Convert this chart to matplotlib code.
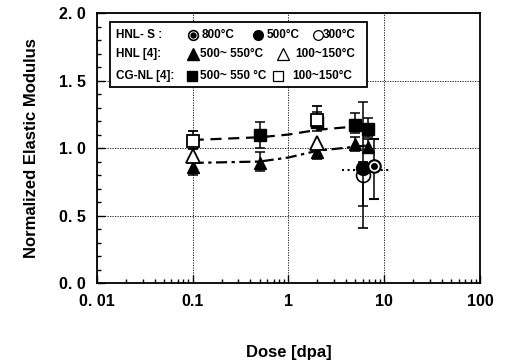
import numpy as np
import matplotlib.pyplot as plt
from matplotlib.ticker import FixedLocator, NullFormatter, MultipleLocator

# ---- data ----
# CG-NL [4], 500-550C (filled squares)
cg_hot_x = [0.5, 2.0, 5.0, 6.8]
cg_hot_y = [1.10, 1.19, 1.17, 1.14]
cg_hot_lo = [0.10, 0.06, 0.06, 0.06]
cg_hot_hi = [0.09, 0.08, 0.09, 0.08]
# CG-NL [4], 100-150C (open squares)
cg_cold_x = [0.1, 2.0]
cg_cold_y = [1.05, 1.21]
cg_cold_lo = [0.06, 0.06]
cg_cold_hi = [0.08, 0.10]
# HNL [4], 500-550C (filled triangles)
hnl_hot_x = [0.1, 0.5, 2.0, 5.0, 6.8]
hnl_hot_y = [0.86, 0.89, 0.97, 1.03, 1.01]
hnl_hot_lo = [0.06, 0.06, 0.05, 0.05, 0.05]
hnl_hot_hi = [0.05, 0.08, 0.05, 0.05, 0.06]
# HNL [4], 100-150C (open triangles)
hnl_cold_x = [0.1, 2.0]
hnl_cold_y = [0.94, 1.04]
# HNL-S
s800_x, s800_y = [7.8], [0.87]
s800_err = [[0.25], [0.20]]
s800_xerr = [[4.2], [3.7]]
s500_x, s500_y = [6.0], [0.85]
s500_err = [[0.28], [0.49]]
s300_x, s300_y = [6.0], [0.80]
s300_err = [[0.39], [0.10]]
# fitted trend lines
fit_cg_x = [0.1, 0.5, 1.0, 2.0, 5.0]
fit_cg_y = [1.06, 1.08, 1.10, 1.135, 1.16]
fit_hnl_x = [0.1, 0.5, 1.0, 2.0, 5.0, 6.8]
fit_hnl_y = [0.89, 0.90, 0.93, 0.98, 1.01, 1.02]

plt.rcParams['font.family'] = ['Liberation Sans', 'DejaVu Sans']
plt.rcParams['font.weight'] = 'bold'

fig = plt.figure(figsize=(5.07, 3.64), dpi=100)
ax = fig.add_axes([0.191, 0.2225, 0.756, 0.7415])

ek = dict(ecolor='black', elinewidth=1.1, capsize=3.5, capthick=1.1, ls='none')
ax.plot(fit_cg_x, fit_cg_y, color='black', ls=(0, (5, 3)), lw=1.6, zorder=2)
ax.plot(fit_hnl_x, fit_hnl_y, color='black', ls=(0, (5, 2, 1.5, 2)), lw=1.6, zorder=2)

ax.errorbar(hnl_hot_x, hnl_hot_y, yerr=[hnl_hot_lo, hnl_hot_hi], marker='^', ms=9,
            mfc='black', mec='black', **ek, zorder=3)
ax.errorbar(hnl_cold_x, hnl_cold_y, marker='^', ms=10, mfc='white', mec='black',
            mew=1.3, ls='none', zorder=4)
ax.errorbar(cg_hot_x, cg_hot_y, yerr=[cg_hot_lo, cg_hot_hi], marker='s', ms=8,
            mfc='black', mec='black', **ek, zorder=3)
ax.errorbar(cg_cold_x, cg_cold_y, yerr=[cg_cold_lo, cg_cold_hi], marker='s', ms=8,
            mfc='white', mec='black', mew=1.3, **ek, zorder=4)

ax.errorbar(s300_x, s300_y, yerr=s300_err, marker='o', ms=10, mfc='white', mec='black',
            mew=1.2, **ek, zorder=4)
ax.errorbar(s500_x, s500_y, yerr=s500_err, marker='o', ms=10, mfc='black', mec='black',
            **ek, zorder=5)
ax.errorbar(s800_x, s800_y, yerr=s800_err, marker='o', ms=9, mfc='white', mec='black',
            mew=1.5, **ek, zorder=5)
ax.plot(s800_x, s800_y, 'ko', ms=4, zorder=6)
ax.errorbar(s800_x, [0.838], xerr=s800_xerr, fmt='none', ecolor='black', elinewidth=1.5,
            zorder=2)[2][0].set_linestyle(':')

ax.set_xscale('log')
ax.set_xlim(0.01, 100)
ax.set_ylim(0, 2.0)
ax.set_xticks([0.01, 0.1, 1, 10, 100])
ax.set_xticklabels(['0. 01', '0.1', '1', '10', '100'], fontsize=11.5, fontweight='bold')
ax.set_yticks([0, 0.5, 1.0, 1.5, 2.0])
ax.set_yticklabels(['0. 0', '0. 5', '1. 0', '1. 5', '2. 0'], fontsize=11.5, fontweight='bold')
ax.yaxis.set_minor_locator(MultipleLocator(0.1))
ax.xaxis.set_minor_locator(FixedLocator([m * 10.0 ** e for e in range(-2, 2) for m in range(2, 10)]))
ax.xaxis.set_minor_formatter(NullFormatter())
ax.tick_params(which='both', direction='in', top=False, right=False, width=1)
ax.tick_params(which='major', length=6, pad=8)
ax.tick_params(which='minor', length=3)
ax.grid(True, which='major', color='black', ls=(0, (1.5, 1.5)), lw=0.6)
for s in ax.spines.values():
    s.set_linewidth(1.3)

ax.set_xlabel('Dose [dpa]', fontsize=12, fontweight='bold', labelpad=26)
ax.set_ylabel('Normalized Elastic Modulus', fontsize=12, fontweight='bold', labelpad=14)

# legend box drawn by hand
T = ax.transAxes
ax.add_patch(plt.Rectangle((0.034, 0.726), 0.671, 0.241, transform=T, fc='white',
                           ec='black', lw=1.3, zorder=7))
fs = 8.5
rows = [0.919, 0.85, 0.767]
labels = ['HNL- S :', 'HNL [4]:', 'CG-NL [4]:']
for yy, lab in zip(rows, labels):
    ax.text(0.051, yy, lab, transform=T, fontsize=fs, fontweight='bold', va='center', zorder=8)
mk = dict(transform=T, zorder=8, clip_on=False, ls='none')
ax.plot([0.251], [rows[0]], marker='o', ms=7, mfc='white', mec='black', mew=1.2, **mk)
ax.plot([0.251], [rows[0]], marker='o', ms=3.5, color='black', **mk)
ax.plot([0.42], [rows[0]], marker='o', ms=7, color='black', **mk)
ax.plot([0.576], [rows[0]], marker='o', ms=7, mfc='white', mec='black', mew=0.9, **mk)
ax.plot([0.251], [rows[1]], marker='^', ms=8, color='black', **mk)
ax.plot([0.486], [rows[1]], marker='^', ms=8, mfc='white', mec='black', mew=0.9, **mk)
ax.plot([0.247], [rows[2]], marker='s', ms=7, color='black', **mk)
ax.plot([0.473], [rows[2]], marker='s', ms=7, mfc='white', mec='black', mew=0.9, **mk)
entries = [(0.273, rows[0], '800°C'), (0.443, rows[0], '500°C'), (0.59, rows[0], '300°C'),
           (0.269, rows[1], '500~ 550°C'), (0.517, rows[1], '100~150°C'),
           (0.27, rows[2], '500~ 550 °C'), (0.511, rows[2], '100~150°C')]
for xx, yy, t in entries:
    ax.text(xx, yy, t, transform=T, fontsize=fs, fontweight='bold', va='center', zorder=8)

fig.savefig('out.png', dpi=100)
